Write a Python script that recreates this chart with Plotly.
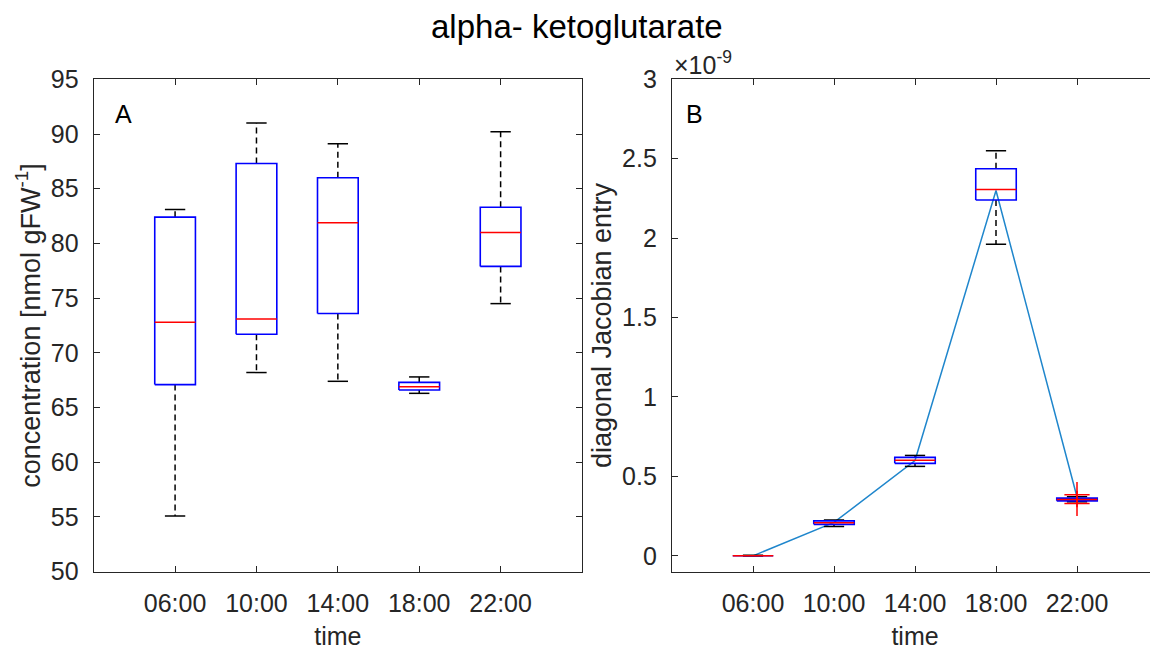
import plotly.graph_objects as go

# ---------------- data ----------------
times = ["06:00", "10:00", "14:00", "18:00", "22:00"]

# Panel A: concentration [nmol gFW^-1]
conc_upper = [83.1, 91.0, 89.1, 67.8, 90.2]
conc_q3 = [82.4, 87.3, 86.0, 67.3, 83.3]
conc_median = [72.8, 73.1, 81.9, 66.9, 81.0]
conc_q1 = [67.1, 71.7, 73.6, 66.6, 77.9]
conc_lower = [55.1, 68.2, 67.4, 66.3, 74.5]

# Panel B: diagonal Jacobian entry (x 1e-9)
jac_upper = [0.004, 0.225, 0.632, 2.550, 0.372]
jac_q3 = [0.002, 0.220, 0.620, 2.437, 0.363]
jac_median = [0.001, 0.208, 0.601, 2.307, 0.355]
jac_q1 = [0.000, 0.198, 0.582, 2.240, 0.346]
jac_lower = [-0.001, 0.185, 0.563, 1.961, 0.340]
jac_outlier_times = ["22:00", "22:00"]
jac_outliers = [0.385, 0.330]
jac_line = [0.0, 0.21, 0.60, 2.30, 0.37]

conc_ticks = [50, 55, 60, 65, 70, 75, 80, 85, 90, 95]
jac_ticks = [0, 0.5, 1, 1.5, 2, 2.5, 3]
jac_ticktext = ["0", "0.5", "1", "1.5", "2", "2.5", "3"]

# ---------------- styling ----------------
FONT = "Liberation Sans, Arial, sans-serif"
AX = "#262626"
HALF = 0.25   # half box width (data units)
CAP = 0.125   # half cap width

pos = [i + 1 for i in range(len(times))]
pos_of = {t: p for t, p in zip(times, pos)}

fig = go.Figure()


def add_boxes(xa, ya, upper, q3, med, q1, lower):
    bx, by, wx, wy, cx, cy, mx, my = [], [], [], [], [], [], [], []
    for p, u, h, m, l, lo in zip(pos, upper, q3, med, q1, lower):
        bx += [p - HALF, p + HALF, p + HALF, p - HALF, p - HALF, None]
        by += [l, l, h, h, l, None]
        wx += [p, p, None, p, p, None]
        wy += [h, u, None, l, lo, None]
        cx += [p - CAP, p + CAP, None, p - CAP, p + CAP, None]
        cy += [u, u, None, lo, lo, None]
        mx += [p - HALF, p + HALF, None]
        my += [m, m, None]
    fig.add_trace(go.Scatter(x=wx, y=wy, mode="lines", xaxis=xa, yaxis=ya,
                             line=dict(color="black", width=1.5, dash="6px,4px"),
                             hoverinfo="skip", showlegend=False))
    fig.add_trace(go.Scatter(x=cx, y=cy, mode="lines", xaxis=xa, yaxis=ya,
                             line=dict(color="black", width=1.5),
                             hoverinfo="skip", showlegend=False))
    fig.add_trace(go.Scatter(x=bx, y=by, mode="lines", xaxis=xa, yaxis=ya,
                             line=dict(color="#0000FF", width=1.6),
                             hoverinfo="skip", showlegend=False))
    fig.add_trace(go.Scatter(x=mx, y=my, mode="lines", xaxis=xa, yaxis=ya,
                             line=dict(color="#FF0000", width=1.5),
                             hoverinfo="skip", showlegend=False))


add_boxes("x", "y", conc_upper, conc_q3, conc_median, conc_q1, conc_lower)

# Panel B: connecting line first, then boxes
fig.add_trace(go.Scatter(x=pos, y=jac_line, mode="lines", xaxis="x2", yaxis="y2",
                         line=dict(color="#1f86cc", width=1.5),
                         hoverinfo="skip", showlegend=False))
add_boxes("x2", "y2", jac_upper, jac_q3, jac_median, jac_q1, jac_lower)
fig.add_trace(go.Scatter(x=[pos_of[t] for t in jac_outlier_times], y=jac_outliers,
                         mode="markers", xaxis="x2", yaxis="y2",
                         marker=dict(symbol="cross-thin", size=18,
                                     line=dict(color="#FF0000", width=1.5)),
                         hoverinfo="skip", showlegend=False))

# the page body has an 8px margin, so the figure is drawn 8px in from the corner
OFF = 8
W, H = 1158 - OFF, 652 - OFF


def px_x(v):
    return (v - OFF) / W


def px_y(v):
    return (H - (v - OFF)) / H


ydom = [px_y(571.7), px_y(79.3)]

common_x = dict(range=[0, 6], tickmode="array", tickvals=pos, ticktext=times,
                ticks="inside", ticklen=6, tickcolor=AX, tickwidth=1.2,
                showline=True, linecolor=AX, linewidth=1.3, mirror="ticks",
                showgrid=False, zeroline=False, automargin=False,
                tickfont=dict(family=FONT, size=25, color=AX),
                ticklabelstandoff=9,
                title=dict(text="time", font=dict(family=FONT, size=25, color=AX),
                           standoff=11))
common_y = dict(ticks="inside", ticklen=6, tickcolor=AX, tickwidth=1.2,
                showline=True, linecolor=AX, linewidth=1.3, mirror="ticks",
                showgrid=False, zeroline=False, automargin=False,
                tickfont=dict(family=FONT, size=25, color=AX),
                ticklabelstandoff=9)

fig.update_layout(
    width=W, height=H,
    paper_bgcolor="white", plot_bgcolor="white",
    margin=dict(l=0, r=0, t=0, b=0, autoexpand=False),
    showlegend=False,
    xaxis=dict(domain=[px_x(93.7), px_x(582)], anchor="y", **common_x),
    xaxis2=dict(domain=[px_x(672), 1.0], anchor="y2", **common_x),
    yaxis=dict(domain=ydom, anchor="x", range=[50, 95], tickmode="array",
               tickvals=conc_ticks,
               title=dict(text="concentration [nmol gFW<sup>-1</sup>]",
                          font=dict(family=FONT, size=27, color=AX), standoff=2),
               **common_y),
    yaxis2=dict(domain=ydom, anchor="x2", range=[-0.1, 3], tickmode="array",
                tickvals=jac_ticks, ticktext=jac_ticktext,
                title=dict(text="diagonal Jacobian entry",
                           font=dict(family=FONT, size=27, color=AX), standoff=2),
                **common_y),
    annotations=[
        dict(text="alpha- ketoglutarate", xref="paper", yref="paper",
             x=px_x(577), y=px_y(27), xanchor="center", yanchor="middle",
             showarrow=False, font=dict(family=FONT, size=33, color="black")),
        dict(text="A", xref="x domain", yref="y domain", x=0.04, y=0.93,
             xanchor="left", yanchor="middle", showarrow=False,
             font=dict(family=FONT, size=25, color="black")),
        dict(text="B", xref="x2 domain", yref="y2 domain", x=0.025, y=0.93,
             xanchor="left", yanchor="middle", showarrow=False,
             font=dict(family=FONT, size=25, color="black")),
        dict(text="×10<sup>-9</sup>", xref="x2 domain", yref="paper",
             x=0.0, y=px_y(63), xanchor="left", yanchor="middle",
             showarrow=False, font=dict(family=FONT, size=25, color=AX)),
    ],
)

fig.write_html("out.html")
